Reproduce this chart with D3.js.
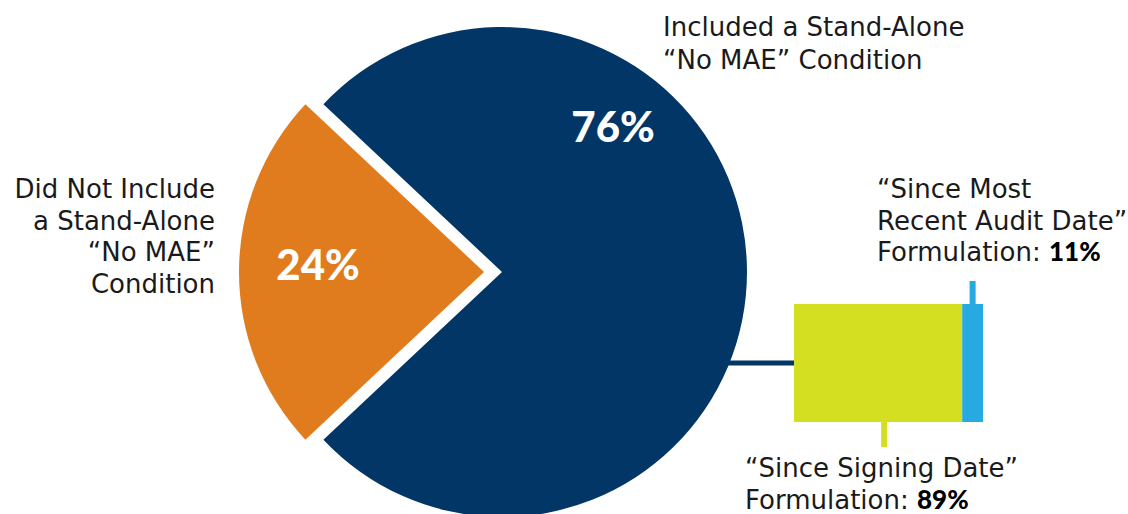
<!DOCTYPE html>
<html>
<head>
<meta charset="utf-8">
<script src="https://cdn.jsdelivr.net/npm/d3@7"></script>
<style>
  html, body { margin: 0; padding: 0; background: #ffffff; }
  svg { display: block; }
  .lbl { font-family: "DejaVu Sans", sans-serif; font-size: 26px; fill: #1a1a1a; }
  .big { font-family: Lato, "DejaVu Sans", sans-serif; font-weight: 900; font-size: 42px; fill: #ffffff; }
  .num { font-family: Lato, "DejaVu Sans", sans-serif; font-weight: 900; fill: #000000; }
</style>
</head>
<body>
<script>
// Share of deals with a stand-alone "No MAE" condition
const pieCategories = ["Did Not Include", "Included"];
const pieValues = [24, 76];
const pieColors = ["#e07b1e", "#023667"];

// Breakdown of the "Included" slice by formulation
const barCategories = ["Since Signing Date", "Since Most Recent Audit Date"];
const barValues = [89, 11];
const barColors = ["#d5df21", "#27a9e1"];

const W = 1128, H = 514;
const svg = d3.select("body").append("svg").attr("width", W).attr("height", H);

const cx = 502, cy = 272, R = 245, explode = 18;

// Connector from the pie to the breakdown bar (drawn first, sits under the pie)
const barY0 = 304, barY1 = 422;
const x = d3.scaleLinear().domain([0, d3.sum(barValues)]).range([794, 983]);
svg.append("line")
  .attr("x1", cx + 150).attr("x2", x(0))
  .attr("y1", 363).attr("y2", 363)
  .attr("stroke", pieColors[1]).attr("stroke-width", 5);

// Pie: first slice centred on the left side
const firstAngle = 2 * Math.PI * pieValues[0] / d3.sum(pieValues);
const pie = d3.pie().sort(null)
  .startAngle(-Math.PI / 2 - firstAngle / 2)
  .endAngle(3 * Math.PI / 2 - firstAngle / 2);
const arc = d3.arc().innerRadius(0).outerRadius(R);

const slices = svg.append("g").attr("transform", `translate(${cx},${cy})`);
slices.selectAll("path")
  .data(pie(pieValues))
  .join("path")
  .attr("d", arc)
  .attr("fill", (d, i) => pieColors[i])
  .attr("transform", (d, i) => {
    if (i !== 0) return null;
    const a = (d.startAngle + d.endAngle) / 2;
    return `translate(${Math.sin(a) * explode},${-Math.cos(a) * explode})`;
  });

// Percent labels inside slices
svg.append("text").attr("class", "big").attr("text-anchor", "middle")
  .attr("x", 318).attr("y", 280).text(pieValues[0] + "%");
svg.append("text").attr("class", "big").attr("text-anchor", "middle")
  .attr("x", 613).attr("y", 142).text(pieValues[1] + "%");

// Stacked breakdown bar
let acc = 0;
const segs = barValues.map((v, i) => { const s = { v, i, x0: acc, x1: acc + v }; acc += v; return s; });
svg.selectAll("rect.seg")
  .data(segs)
  .join("rect")
  .attr("class", "seg")
  .attr("x", d => x(d.x0)).attr("width", d => x(d.x1) - x(d.x0))
  .attr("y", barY0).attr("height", barY1 - barY0)
  .attr("fill", d => barColors[d.i]);

// Small leader ticks from each segment toward its label
const tickW = 6;
svg.append("rect")
  .attr("x", (x(segs[0].x0) + x(segs[0].x1)) / 2 + 6 - tickW / 2).attr("width", tickW)
  .attr("y", barY1).attr("height", 25).attr("fill", barColors[0]);
svg.append("rect")
  .attr("x", (x(segs[1].x0) + x(segs[1].x1)) / 2 - tickW / 2).attr("width", tickW)
  .attr("y", barY0 - 23).attr("height", 23).attr("fill", barColors[1]);

// Text labels
function block(lines, x0, y0, anchor, lh) {
  const t = svg.append("text").attr("class", "lbl").attr("text-anchor", anchor);
  lines.forEach((ln, k) => {
    const ts = t.append("tspan").attr("x", x0).attr("y", y0 + k * lh);
    (Array.isArray(ln) ? ln : [ln]).forEach(part => {
      if (typeof part === "object") ts.append("tspan").attr("class", "num").text(part.b);
      else ts.append("tspan").text(part);
    });
  });
}

block(["Included a Stand-Alone", "\u201CNo MAE\u201D Condition"], 663, 36, "start", 32.5);
block(["Did Not Include", "a Stand-Alone", "\u201CNo MAE\u201D", "Condition"], 215, 198, "end", 31.7);
block(["\u201CSince Most", "Recent Audit Date\u201D", ["Formulation: ", { b: barValues[1] + "%" }]], 877, 198, "start", 31.7);
block(["\u201CSince Signing Date\u201D", ["Formulation: ", { b: barValues[0] + "%" }]], 745, 477, "start", 31.5);
</script>
</body>
</html>
